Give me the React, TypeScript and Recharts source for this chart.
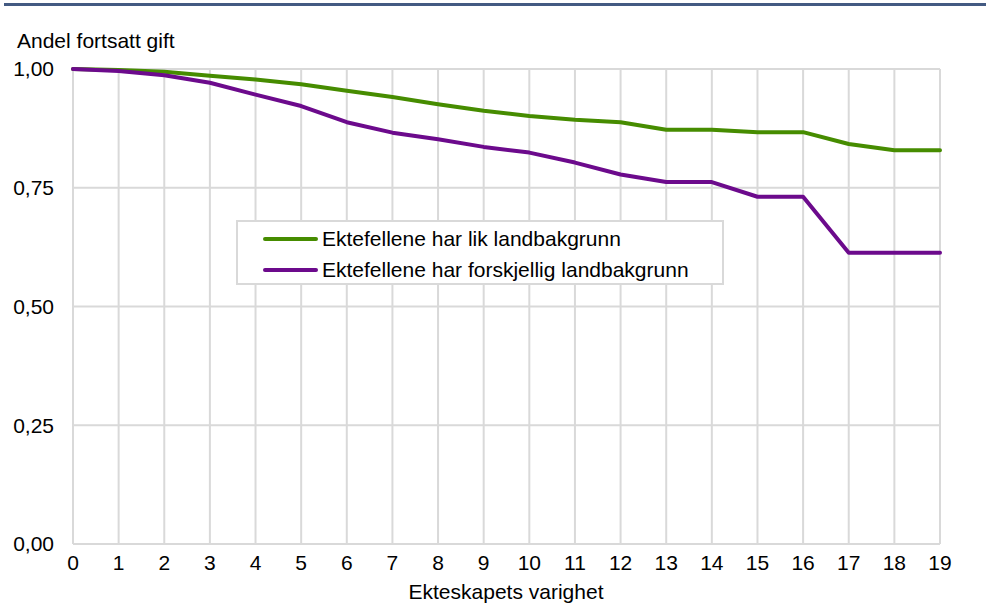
import React from "react";
import { LineChart, Line, XAxis, YAxis, CartesianGrid, Legend } from "recharts";

// Ekteskapets varighet (år)
const years = [0, 1, 2, 3, 4, 5, 6, 7, 8, 9, 10, 11, 12, 13, 14, 15, 16, 17, 18, 19];

// Andel fortsatt gift
const likBakgrunn = [
  1.0, 0.998, 0.994, 0.986, 0.978, 0.968, 0.954, 0.941, 0.926, 0.912,
  0.901, 0.893, 0.888, 0.872, 0.872, 0.867, 0.867, 0.842, 0.829, 0.829,
];
const ulikBakgrunn = [
  1.0, 0.996, 0.987, 0.971, 0.946, 0.922, 0.888, 0.866, 0.852, 0.836,
  0.824, 0.803, 0.778, 0.762, 0.762, 0.731, 0.731, 0.613, 0.613, 0.613,
];

const yTicks = [0, 0.25, 0.5, 0.75, 1];

const GREEN = "#468c00";
const PURPLE = "#6c0a8c";
const FONT = "'Liberation Sans', Arial, sans-serif";
const FS = 21;

const data = years.map((year, i) => ({
  year,
  lik: likBakgrunn[i],
  ulik: ulikBakgrunn[i],
}));

const LegendBox = ({ payload }: any) => (
  <div
    style={{
      border: "2px solid #d9d9d9",
      background: "#fff",
      boxSizing: "border-box",
      width: 488,
      height: 65,
      padding: "1px 0 0 25px",
    }}
  >
    {(payload || []).map((entry: any) => (
      <div
        key={entry.value}
        style={{ display: "flex", alignItems: "center", height: 31 }}
      >
        <span
          style={{
            display: "inline-block",
            width: 55,
            height: 4,
            borderRadius: 2,
            background: entry.color,
            marginRight: 4,
          }}
        />
        <span style={{ fontFamily: FONT, fontSize: FS, color: "#000" }}>
          {entry.value}
        </span>
      </div>
    ))}
  </div>
);

export default function App() {
  return (
    <div
      style={{
        position: "absolute",
        left: 0,
        top: 0,
        width: 986,
        height: 608,
        background: "#fff",
        fontFamily: FONT,
      }}
    >
      {/* top rule */}
      <div
        style={{
          position: "absolute",
          left: 4,
          top: 3,
          width: 982,
          height: 3,
          background: "#435a82",
        }}
      />
      <div
        style={{
          position: "absolute",
          left: 17,
          top: 29,
          fontSize: FS,
          color: "#000",
          whiteSpace: "nowrap",
        }}
      >
        Andel fortsatt gift
      </div>
      <div
        style={{
          position: "absolute",
          left: 0,
          width: 1012,
          top: 580,
          textAlign: "center",
          fontSize: FS,
          color: "#000",
          whiteSpace: "nowrap",
        }}
      >
        Ekteskapets varighet
      </div>
      <LineChart
        width={986}
        height={608}
        data={data}
        margin={{ top: 69, right: 46, left: 13, bottom: 24 }}
      >
        <CartesianGrid stroke="#d9d9d9" strokeWidth={2} />
        <XAxis
          dataKey="year"
          type="number"
          domain={[0, 19]}
          ticks={years}
          interval={0}
          height={40}
          axisLine={{ stroke: "#d9d9d9", strokeWidth: 2 }}
          tickLine={false}
          tickSize={6}
          tickMargin={5}
          tick={{ fill: "#000", fontSize: FS, fontFamily: FONT }}
        />
        <YAxis
          type="number"
          domain={[0, 1]}
          ticks={yTicks}
          width={60}
          axisLine={false}
          tickLine={false}
          tickSize={6}
          tickMargin={13}
          tickFormatter={(v: number) => v.toFixed(2).replace(".", ",")}
          tick={{ fill: "#000", fontSize: FS, fontFamily: FONT }}
        />
        <Legend
          layout="vertical"
          verticalAlign="middle"
          align="center"
          itemSorter="dataKey"
          content={<LegendBox />}
          wrapperStyle={{ position: "absolute", left: 236, top: 220, width: 488 }}
        />
        <Line
          type="linear"
          dataKey="lik"
          name="Ektefellene har lik landbakgrunn"
          stroke={GREEN}
          strokeWidth={4}
          dot={false}
          activeDot={false}
          strokeLinecap="round"
          strokeLinejoin="round"
          isAnimationActive={false}
        />
        <Line
          type="linear"
          dataKey="ulik"
          name="Ektefellene har forskjellig landbakgrunn"
          stroke={PURPLE}
          strokeWidth={4}
          dot={false}
          activeDot={false}
          strokeLinecap="round"
          strokeLinejoin="round"
          isAnimationActive={false}
        />
      </LineChart>
    </div>
  );
}
